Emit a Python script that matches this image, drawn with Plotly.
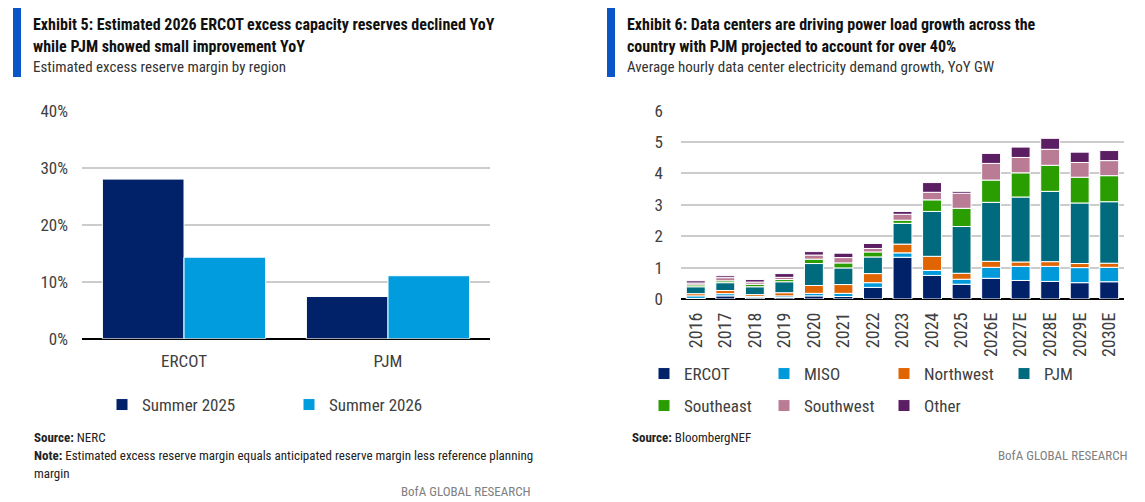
import numpy as np
import plotly.graph_objects as go

W, H = 1145, 502

# ---------------- Data: Exhibit 5 ----------------
regions5 = ["ERCOT", "PJM"]
summer_2025 = [0.280, 0.074]
summer_2026 = [0.143, 0.1105]

# ---------------- Data: Exhibit 6 ----------------
years = ["2016", "2017", "2018", "2019", "2020", "2021", "2022", "2023", "2024",
         "2025", "2026E", "2027E", "2028E", "2029E", "2030E"]
ercot     = [0.02, 0.10, 0.04, 0.05, 0.10, 0.08, 0.37, 1.33, 0.75, 0.47, 0.66, 0.59, 0.56, 0.52, 0.55]
miso      = [0.08, 0.07, 0.04, 0.05, 0.08, 0.10, 0.15, 0.14, 0.16, 0.16, 0.35, 0.45, 0.48, 0.48, 0.46]
northwest = [0.07, 0.10, 0.06, 0.10, 0.25, 0.28, 0.29, 0.28, 0.45, 0.19, 0.19, 0.14, 0.15, 0.13, 0.13]
pjm       = [0.22, 0.25, 0.25, 0.35, 0.70, 0.53, 0.53, 0.66, 1.43, 1.49, 1.88, 2.07, 2.24, 1.93, 1.96]
southeast = [0.06, 0.06, 0.08, 0.07, 0.14, 0.16, 0.16, 0.10, 0.37, 0.58, 0.71, 0.77, 0.83, 0.82, 0.83]
southwest = [0.06, 0.10, 0.07, 0.07, 0.13, 0.17, 0.11, 0.19, 0.24, 0.48, 0.53, 0.49, 0.51, 0.47, 0.48]
other     = [0.07, 0.06, 0.08, 0.12, 0.11, 0.14, 0.16, 0.09, 0.31, 0.06, 0.32, 0.33, 0.35, 0.33, 0.32]

series6 = [
    ("ERCOT", ercot, "#012169"),
    ("MISO", miso, "#009ADB"),
    ("Northwest", northwest, "#E06400"),
    ("PJM", pjm, "#006A7E"),
    ("Southeast", southeast, "#2A9D00"),
    ("Southwest", southwest, "#BA7C95"),
    ("Other", other, "#5C1E63"),
]

FONT = "Liberation Sans Narrow, Roboto Condensed, DejaVu Sans Condensed, Arial Narrow, sans-serif"
TXT = "#404040"

def px(x):
    return x / W

def py(y):
    return 1 - y / H

fig = go.Figure()

# Exhibit 5 bars (grouped)
fig.add_trace(go.Bar(x=regions5, y=summer_2025, name="Summer 2025",
                     marker=dict(color="#012169", line=dict(color="white", width=1)),
                     xaxis="x", yaxis="y", legend="legend"))
fig.add_trace(go.Bar(x=regions5, y=summer_2026, name="Summer 2026",
                     marker=dict(color="#009CDE", line=dict(color="white", width=1)),
                     xaxis="x", yaxis="y", legend="legend"))

# Exhibit 6 bars (stacked via cumulative base)
cum = np.zeros(len(years))
for i, (name, vals, col) in enumerate(series6):
    v = np.array(vals)
    fig.add_trace(go.Bar(x=years, y=v, base=cum.copy(), name=name,
                         offsetgroup="stack6", width=0.64, offset=-0.32,
                         marker=dict(color=col, line=dict(color="white", width=1)),
                         xaxis="x2", yaxis="y2",
                         legend="legend2" if i < 4 else "legend3"))
    cum = cum + v

def f(size):
    return dict(family=FONT, size=size, color=TXT)

fig.update_layout(
    width=W, height=H, autosize=False,
    margin=dict(l=0, r=0, t=0, b=0, autoexpand=False),
    paper_bgcolor="white", plot_bgcolor="white",
    barmode="group", bargap=0.2, bargroupgap=0,
    font=dict(family=FONT, color=TXT),
    xaxis=dict(domain=[px(82), px(490)], anchor="y", showgrid=False, automargin=False,
               tickfont=f(17), ticks="", ticklabelstandoff=10,
               showline=False, zeroline=False),
    yaxis=dict(domain=[py(338.7), py(110.7)], anchor="x", range=[0, 0.40], automargin=False,
               tickvals=[0, 0.1, 0.2, 0.3, 0.4], tickformat=".0%",
               showgrid=True, gridcolor="#cccccc", gridwidth=1.5,
               zeroline=True, zerolinecolor="#000000", zerolinewidth=2,
               tickfont=f(17), ticklabelstandoff=13),
    xaxis2=dict(domain=[px(681), px(1124)], anchor="y2", showgrid=False, automargin=False,
                tickfont=f(18), tickangle=-90, ticks="", ticklabelstandoff=9,
                showline=False, zeroline=False),
    yaxis2=dict(domain=[py(299), py(110.7)], anchor="x2", range=[0, 6], automargin=False,
                tickvals=[0, 1, 2, 3, 4, 5, 6],
                showgrid=True, gridcolor="#cccccc", gridwidth=1.5,
                zeroline=True, zerolinecolor="#000000", zerolinewidth=2,
                tickfont=f(17), ticklabelstandoff=17),
    legend=dict(orientation="h", x=px(102), y=py(405), yanchor="middle", xanchor="left",
                font=f(17), entrywidth=142, bgcolor="rgba(0,0,0,0)"),
    legend2=dict(orientation="h", x=px(644), y=py(374), yanchor="middle", xanchor="left",
                 font=f(17), entrywidth=75, bgcolor="rgba(0,0,0,0)"),
    legend3=dict(orientation="h", x=px(644), y=py(406), yanchor="middle", xanchor="left",
                 font=f(17), entrywidth=75, bgcolor="rgba(0,0,0,0)"),
    showlegend=True,
)

# Accent bars
for x0, x1 in [(13, 21), (607, 615)]:
    fig.add_shape(type="rect", xref="paper", yref="paper",
                  x0=px(x0), x1=px(x1), y0=py(77), y1=py(8),
                  fillcolor="#0A55C8", line=dict(width=0), layer="above")

def ann(text, x, y, size, color="#111111", xanchor="left", bold=False):
    fig.add_annotation(text=("<b>%s</b>" % text) if bold else text,
                       xref="paper", yref="paper", x=px(x), y=py(y),
                       xanchor=xanchor, yanchor="middle", showarrow=False,
                       font=dict(family=FONT, size=size, color=color))

# Titles
ann("Exhibit 5: Estimated 2026 ERCOT excess capacity reserves declined YoY", 31, 25, 16, bold=True)
ann("while PJM showed small improvement YoY", 31, 46, 16, bold=True)
ann("Estimated excess reserve margin by region", 31, 67, 15, color="#333333")

ann("Exhibit 6: Data centers are driving power load growth across the", 625, 25, 16, bold=True)
ann("country with PJM projected to account for over 40%", 625, 46, 16, bold=True)
ann("Average hourly data center electricity demand growth, YoY GW", 625, 67, 15, color="#333333")

# Footers
ann("<b>Source:</b> NERC", 32, 437, 13, color="#222222")
ann("<b>Note:</b> Estimated excess reserve margin equals anticipated reserve margin less reference planning", 32, 455, 13, color="#222222")
ann("margin", 32, 473, 13, color="#222222")
ann("BofA GLOBAL RESEARCH", 533, 491, 13, color="#808080", xanchor="right")

ann("<b>Source:</b> BloombergNEF", 630, 437, 13, color="#222222")
ann("BofA GLOBAL RESEARCH", 1130, 455, 13, color="#808080", xanchor="right")

fig.write_html("out.html")
